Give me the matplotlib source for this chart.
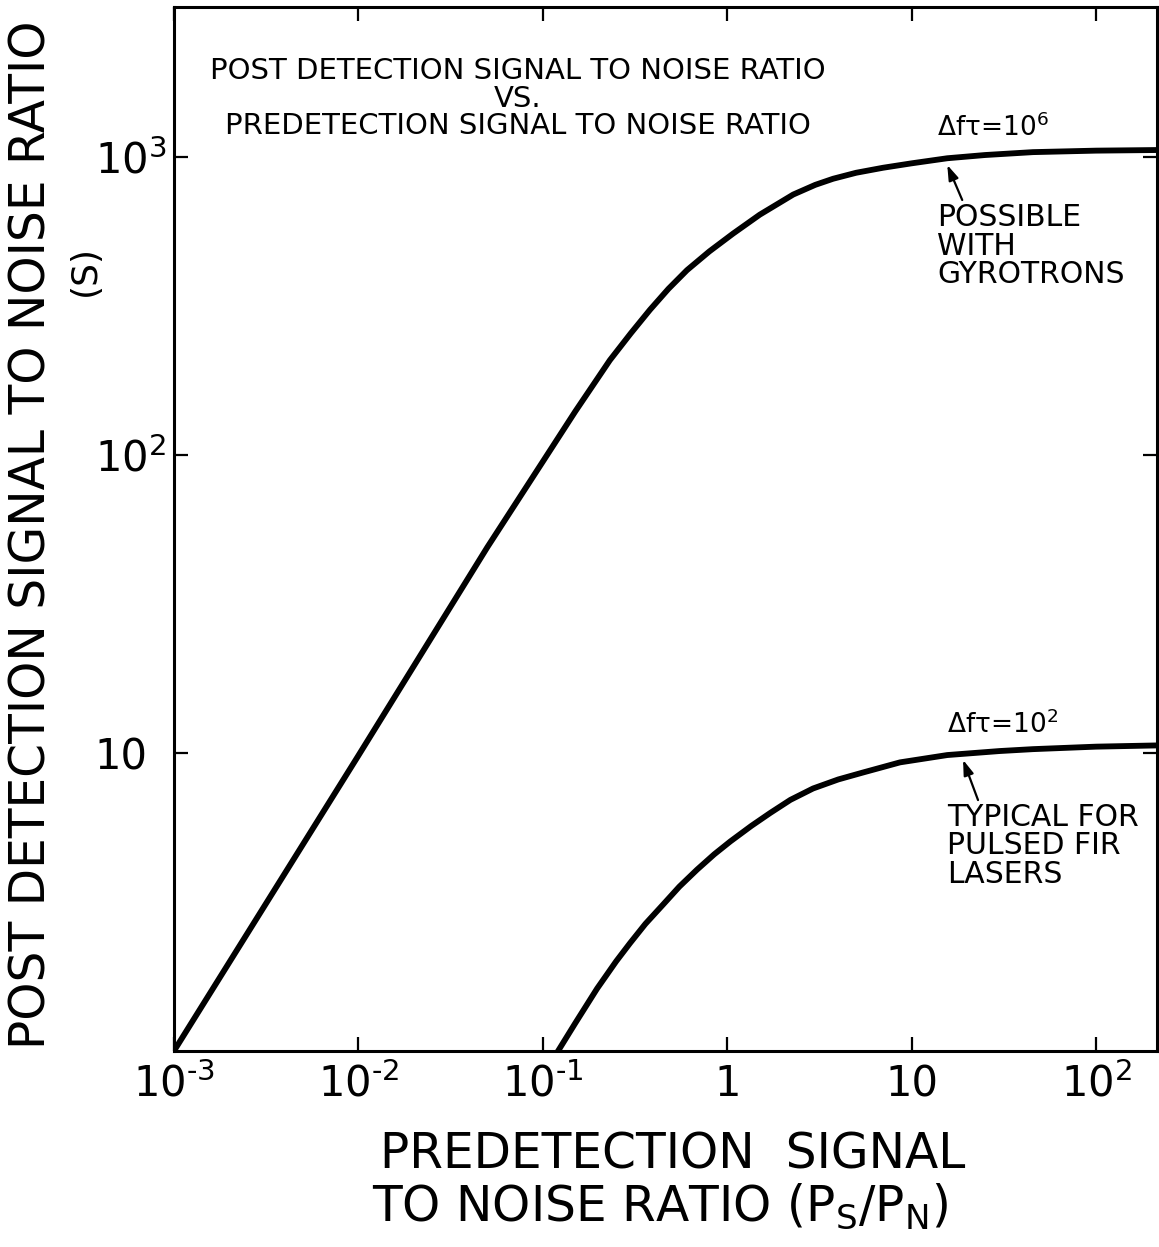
import matplotlib
matplotlib.use("Agg")
import matplotlib.pyplot as plt

plt.rcParams["font.family"] = ["DejaVu Sans"]
plt.rcParams["mathtext.default"] = "regular"

# values (log-log)
x_hi = [0.001, 0.01, 0.05, 0.1, 0.15, 0.231, 0.3, 0.381, 0.48, 0.605, 0.8, 1.075,
        1.5, 2.28, 3.0, 3.75, 5.0, 7.0, 10, 15.6, 25, 45.5, 100, 214]
s_hi = [1.0, 9.8, 49, 95, 140, 208, 256, 307, 361, 417, 482, 553,
        640, 748, 806, 845, 885, 920, 952, 990, 1015, 1038, 1050, 1055]

x_lo = [0.121, 0.15, 0.197, 0.25, 0.297, 0.36, 0.449, 0.55, 0.686, 0.85, 1.04,
        1.35, 1.71, 2.2, 2.92, 4.0, 5.45, 8.65, 15.6, 30, 45.5, 100, 214]
s_lo = [1.0, 1.24, 1.62, 2.0, 2.3, 2.67, 3.1, 3.56, 4.06, 4.57, 5.05,
        5.69, 6.29, 6.96, 7.6, 8.15, 8.6, 9.3, 9.84, 10.15, 10.3, 10.5, 10.6]

x_ticks = [1e-3, 1e-2, 1e-1, 1, 10, 100]
x_tick_labels = ["$10^{\u20103}$", "$10^{\u20102}$", "$10^{\u20101}$", "1", "10", "$10^{2}$"]
y_ticks = [10, 100, 1000]
y_tick_labels = ["10", "$10^{2}$", "$10^{3}$"]

fig = plt.figure(figsize=(11.59, 12.47), dpi=100)
ax = fig.add_axes([0.1501, 0.1572, 0.8482, 0.8372])

ax.plot(x_hi, s_hi, color="black", lw=4.2, solid_joinstyle="round")
ax.plot(x_lo, s_lo, color="black", lw=4.2, solid_joinstyle="round")

ax.set_xscale("log")
ax.set_yscale("log")
ax.set_xlim(1e-3, 214)
ax.set_ylim(1, 3186)

ax.set_xticks(x_ticks)
ax.set_xticklabels(x_tick_labels)
ax.set_yticks(y_ticks)
ax.set_yticklabels(y_tick_labels)
ax.minorticks_off()
ax.tick_params(axis="both", which="major", direction="in", length=10, width=1.6,
               top=True, right=True, labelsize=30)
ax.tick_params(axis="x", pad=9)
ax.tick_params(axis="y", pad=57)
for lbl in ax.get_yticklabels():
    lbl.set_ha("left")

for sp in ax.spines.values():
    sp.set_linewidth(2.2)

# title block inside the axes
ax.text(0.35, 0.952,
        "POST DETECTION SIGNAL TO NOISE RATIO\nVS.\nPREDETECTION SIGNAL TO NOISE RATIO",
        transform=ax.transAxes, ha="center", va="top", fontsize=21,
        linespacing=0.98, multialignment="center")

# curve labels and arrows
ax.text(13.7, 1251, r"$\Delta f\tau$=10$^6$", fontsize=19, va="center", ha="left")
ax.text(13.7, 700, "POSSIBLE\nWITH\nGYROTRONS", fontsize=21.5, va="top", ha="left",
        linespacing=0.98)
ax.annotate("", xy=(15.6, 940), xytext=(18.8, 717),
            arrowprops=dict(arrowstyle="-|>,head_length=0.9,head_width=0.3",
                            color="black", lw=1.6, shrinkA=0, shrinkB=0))

ax.text(15.6, 12.4, r"$\Delta f\tau$=10$^2$", fontsize=19, va="center", ha="left")
ax.text(15.6, 6.8, "TYPICAL FOR\nPULSED FIR\nLASERS", fontsize=21.5, va="top", ha="left",
        linespacing=0.98)
ax.annotate("", xy=(19.0, 9.48), xytext=(22.9, 6.95),
            arrowprops=dict(arrowstyle="-|>,head_length=0.9,head_width=0.3",
                            color="black", lw=1.6, shrinkA=0, shrinkB=0))

# axis titles
fig.text(0.027, 0.571, "POST DETECTION SIGNAL TO NOISE RATIO", rotation=90,
         ha="center", va="center", fontsize=35)
fig.text(0.073, 0.783, "(S)", rotation=90, ha="center", va="center", fontsize=26)
fig.text(0.58, 0.074, "PREDETECTION  SIGNAL", ha="center", va="center", fontsize=35)
fig.text(0.569, 0.033, "TO NOISE RATIO (P$_S$/P$_N$)", ha="center", va="center",
         fontsize=35)

fig.savefig("out.png", dpi=100, facecolor="white")
